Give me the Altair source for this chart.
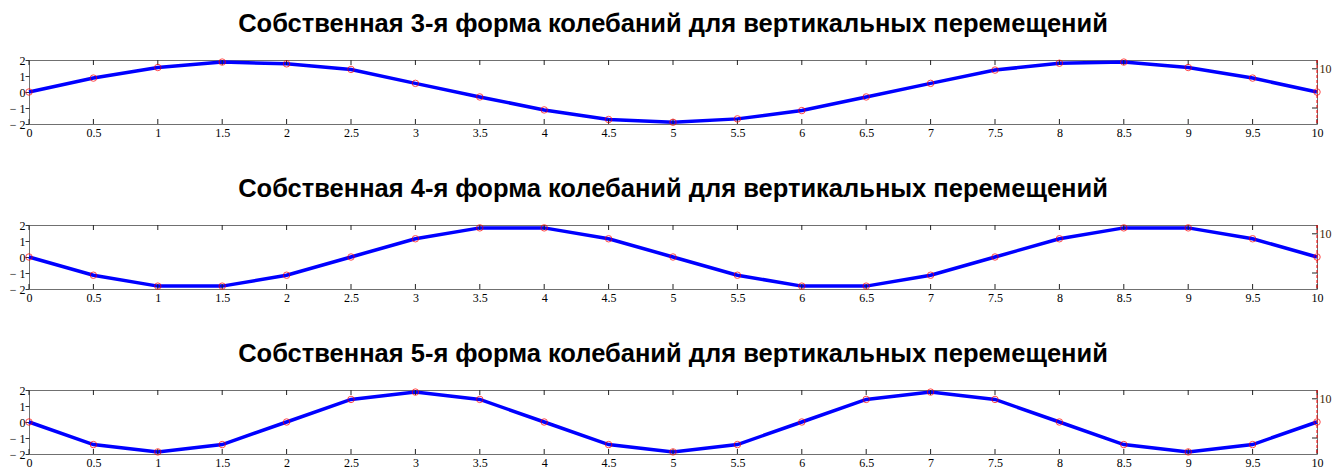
import altair as alt
import pandas as pd

x_vals = [0, 0.5, 1, 1.5, 2, 2.5, 3, 3.5, 4, 4.5, 5, 5.5, 6, 6.5, 7, 7.5, 8, 8.5, 9, 9.5, 10]
mode3 = [0, 0.87, 1.53, 1.87, 1.76, 1.41, 0.54, -0.31, -1.12, -1.72, -1.89, -1.68, -1.16, -0.31, 0.54, 1.37, 1.80, 1.87, 1.53, 0.87, 0.0]
mode4 = [0, -1.14, -1.82, -1.82, -1.14, 0, 1.14, 1.82, 1.82, 1.14, 0, -1.14, -1.82, -1.82, -1.14, 0, 1.14, 1.82, 1.82, 1.14, 0]
mode5 = [0, -1.41, -1.87, -1.41, 0, 1.41, 1.87, 1.41, 0, -1.41, -1.87, -1.41, 0, 1.41, 1.87, 1.41, 0, -1.41, -1.87, -1.41, 0]
titles = [
    "Собственная 3-я форма колебаний для вертикальных перемещений",
    "Собственная 4-я форма колебаний для вертикальных перемещений",
    "Собственная 5-я форма колебаний для вертикальных перемещений",
]
x_ticks = x_vals
y_ticks = [-2, -1, 0, 1, 2]
right_ticks = [1.45, -1.0]
edge_x = [10]

W, H = 1288, 64
xs = alt.Scale(domain=[0, 10], nice=False, zero=False)
ys = alt.Scale(domain=[-2, 2], nice=False, zero=False)
x_axis = alt.Axis(values=x_ticks, ticks=False, domain=False, grid=False,
                  labelPadding=3, labelFlush=False,
                  labelExpr="replace(format(datum.value, '.1f'), '.0', '')")


def panel(values, title):
    df = pd.DataFrame({"x": x_vals, "y": values})
    base = alt.Chart(df)
    line = base.mark_line(color="#0000ff", strokeWidth=3.5).encode(
        x=alt.X("x:Q", scale=xs, title=None, axis=x_axis),
        y=alt.Y("y:Q", scale=ys, title=None,
                axis=alt.Axis(values=y_ticks, grid=False, domain=False, tickSize=4,
                              tickColor="#333", labelPadding=0,
                              labelExpr="datum.value < 0 ? '\u2212 ' + abs(datum.value) : datum.label")),
    )
    pts = base.mark_point(shape="circle", filled=False, color="#ff0000", size=42, strokeWidth=1).encode(
        x=alt.X("x:Q", scale=xs, title=None, axis=x_axis), y=alt.Y("y:Q", scale=ys, axis=None)
    )
    tdf = pd.DataFrame({"t": x_ticks})
    top_ticks = alt.Chart(tdf).mark_rule(color="#222", strokeWidth=1).encode(
        x=alt.X("t:Q", scale=xs, title=None, axis=x_axis), y=alt.value(0), y2=alt.value(5)
    )
    bot_ticks = alt.Chart(tdf).mark_rule(color="#222", strokeWidth=1).encode(
        x=alt.X("t:Q", scale=xs, title=None, axis=x_axis), y=alt.value(H - 5), y2=alt.value(H)
    )
    rdf = pd.DataFrame({"v": right_ticks})
    rticks = alt.Chart(rdf).mark_rule(color="#222", strokeWidth=1).encode(
        y=alt.Y("v:Q", scale=ys, title=None,
                axis=alt.Axis(orient="right", values=right_ticks, ticks=False, domain=False,
                              grid=False, labelPadding=2, labelColor="#3a2400",
                              labelExpr="datum.value > 0 ? '10' : ''")),
        x=alt.value(W - 5), x2=alt.value(W),
    )
    edf = pd.DataFrame({"e": edge_x})
    edge = alt.Chart(edf).mark_rule(color="#ff0000", strokeDash=[3, 2], strokeWidth=1).encode(
        x=alt.X("e:Q", scale=xs, title=None, axis=x_axis)
    )
    return (
        alt.layer(line, top_ticks, bot_ticks, edge, pts, rticks)
        .resolve_axis(y="independent")
        .properties(width=W, height=H,
                    title=alt.TitleParams(title, offset=17))
    )


chart = (
    alt.vconcat(*[panel(v, t) for v, t in zip([mode3, mode4, mode5], titles)], spacing=37)
    .properties(padding={"left": 0, "top": 3, "right": 0, "bottom": 0})
    .configure_view(stroke="#707070", strokeWidth=1)
    .configure_title(font="Liberation Sans", fontSize=25.5, fontWeight="bold", color="#000", anchor="middle")
    .configure_axis(labelFont="Liberation Serif", labelFontSize=12, labelColor="#000")
)

chart.save("out.html", embed_options={"renderer": "svg", "actions": False})
